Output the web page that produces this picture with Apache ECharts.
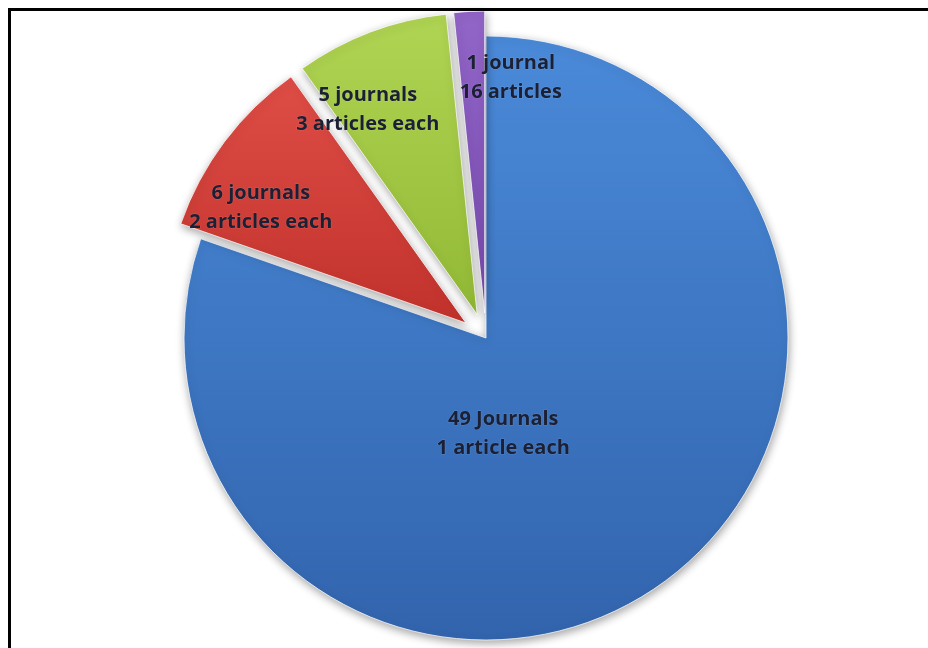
<!DOCTYPE html>
<html>
<head>
<meta charset="utf-8">
<script src="https://cdn.jsdelivr.net/npm/echarts@6/dist/echarts.min.js"></script>
<style>
  html, body { margin: 0; padding: 0; background: #ffffff; overflow: hidden; }
  #chart { width: 928px; height: 648px; }
</style>
</head>
<body>
<div id="chart"></div>
<script>
// Journals grouped by how many articles each one contributed
const journalLabels = ['49 Journals', '6 journals', '5 journals', '1 journal'];
const articleLabels = ['1 article each', '2 articles each', '3 articles each', '16 articles'];
const journalCounts = [49, 6, 5, 1];
const pulledOut = [false, true, true, true];

// Slice fills (top / bottom of each gradient)
const sliceColors = [
  ['#4a8ad9', '#3264ad'],
  ['#de4d46', '#c2322c'],
  ['#b0d453', '#92b935'],
  ['#9265c8', '#7649ac']
];

// Nudges that move each text block from the default inside spot
const labelNudge = [[-72, -30], [-82, -23], [-55, -61], [34, -81]];

const chart = echarts.init(document.getElementById('chart'), null, { renderer: 'canvas' });

const data = journalCounts.map((v, i) => ({
  name: journalLabels[i] + '\n' + articleLabels[i],
  value: v,
  selected: pulledOut[i],
  itemStyle: {
    color: new echarts.graphic.LinearGradient(0, 0, 0, 1, [
      { offset: 0, color: sliceColors[i][0] },
      { offset: 1, color: sliceColors[i][1] }
    ])
  }
}));

chart.setOption({
  backgroundColor: '#ffffff',
  animation: false,
  graphic: [
    {
      type: 'line',
      shape: { x1: 8, y1: 9.5, x2: 940, y2: 9.5 },
      style: { stroke: '#000000', lineWidth: 3 },
      silent: true, z: 10
    },
    {
      type: 'line',
      shape: { x1: 9.5, y1: 8, x2: 9.5, y2: 660 },
      style: { stroke: '#000000', lineWidth: 3 },
      silent: true, z: 10
    }
  ],
  series: [{
    type: 'pie',
    center: [486, 338],
    radius: [0, 302],
    startAngle: 90,
    clockwise: true,
    selectedMode: 'multiple',
    selectedOffset: 25,
    avoidLabelOverlap: false,
    emphasis: { disabled: true },
    itemStyle: {
      borderColor: 'rgba(255,255,255,0.75)',
      borderWidth: 1,
      shadowBlur: 8,
      shadowColor: 'rgba(0,0,0,0.35)',
      shadowOffsetX: 1,
      shadowOffsetY: 3
    },
    label: {
      show: true,
      position: 'inside',
      formatter: '{b}',
      fontFamily: 'Open Sans',
      fontWeight: 'bold',
      fontSize: 20,
      lineHeight: 29,
      color: '#1b2034',
      textBorderColor: 'rgba(255,255,255,0.12)',
      textBorderWidth: 1
    },
    labelLine: { show: false },
    labelLayout: function (p) {
      const n = labelNudge[p.dataIndex];
      return { dx: n[0], dy: n[1] };
    },
    data: data
  }]
});
</script>
</body>
</html>
